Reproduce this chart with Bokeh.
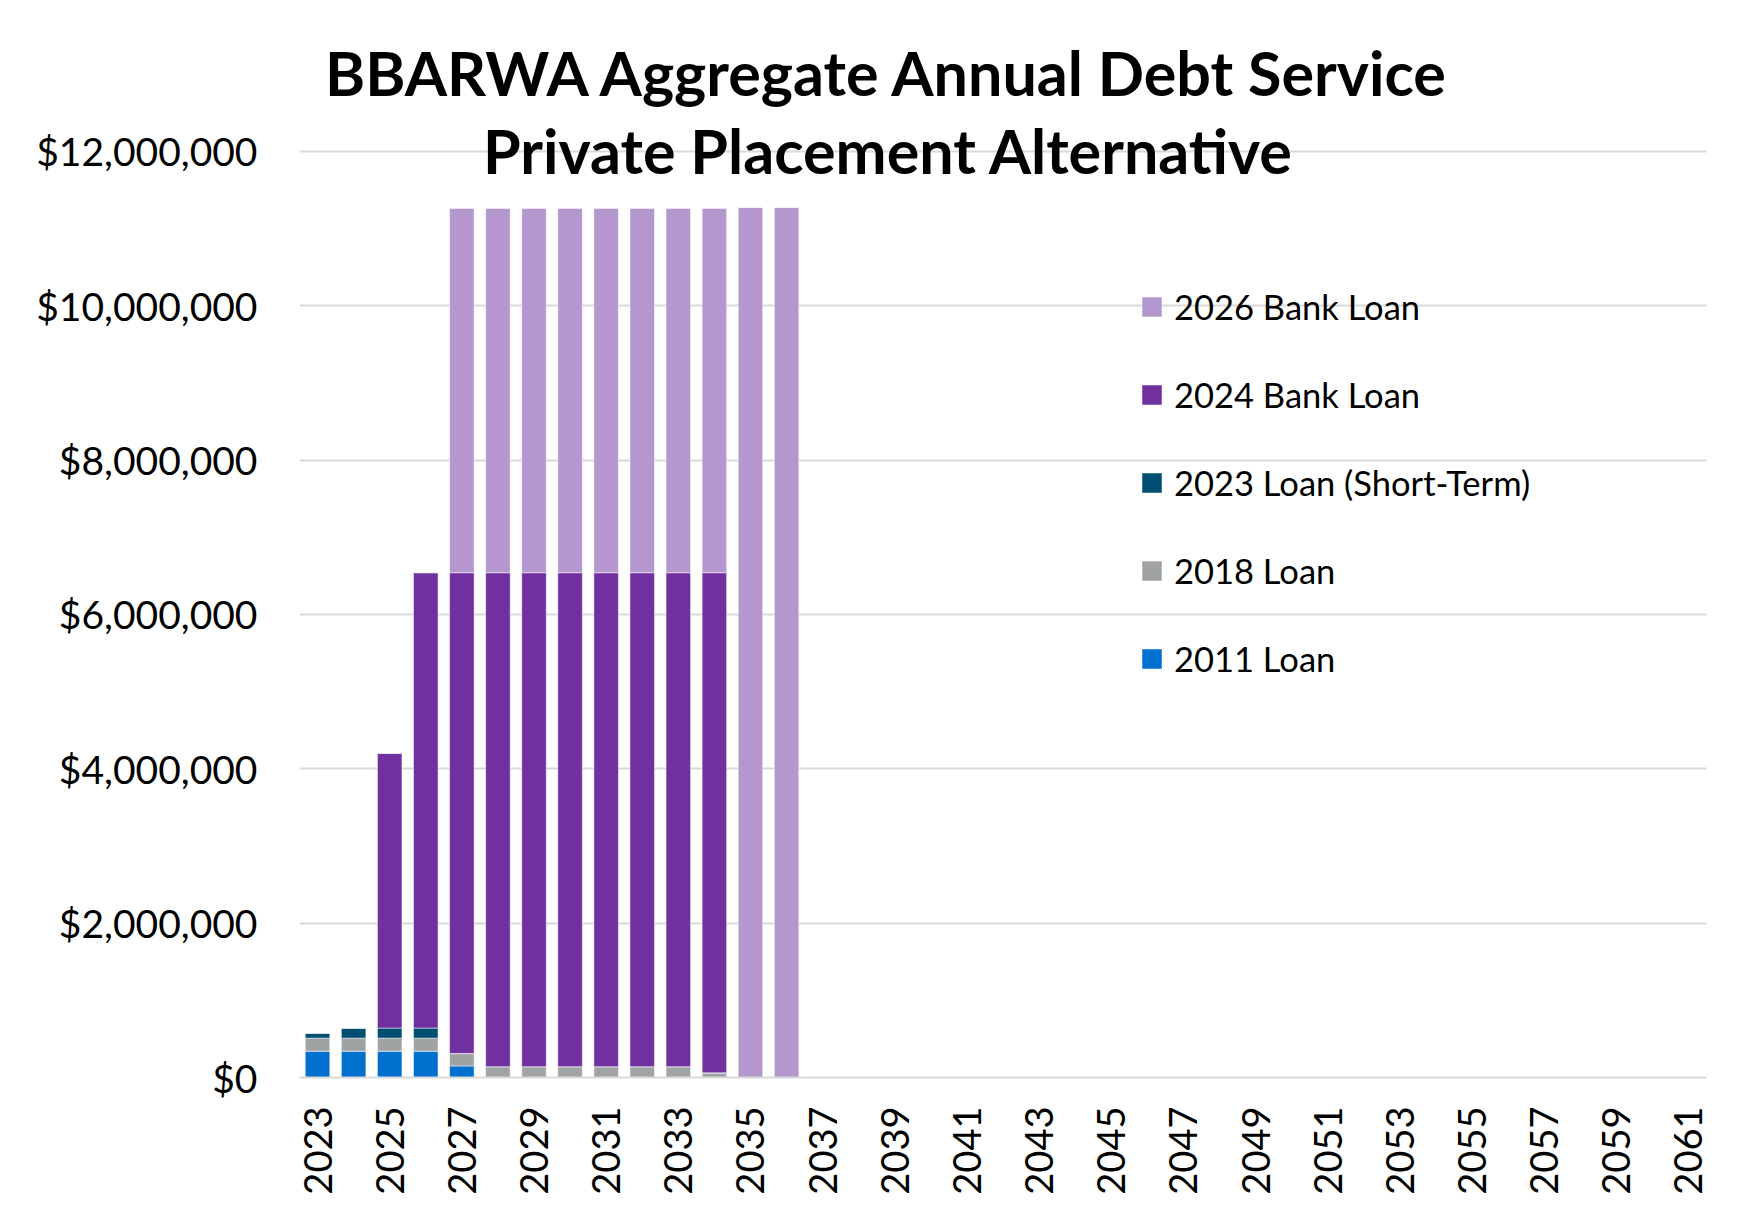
import math
from bokeh.plotting import figure
from bokeh.models import (ColumnDataSource, FixedTicker, NumeralTickFormatter,
                          Legend, LegendItem, Label, Range1d)
from bokeh.embed import file_html
from bokeh.resources import INLINE

years = list(range(2023, 2062))

def series(d):
    return [d.get(y, 0) for y in years]

loan_2011 = series({2023: 340000, 2024: 340000, 2025: 340000, 2026: 340000, 2027: 150000})
loan_2018 = series({2023: 170000, 2024: 170000, 2025: 170000, 2026: 170000, 2027: 160000,
                    2028: 140000, 2029: 140000, 2030: 140000, 2031: 140000, 2032: 140000,
                    2033: 140000, 2034: 60000})
loan_2023_st = series({2023: 65000, 2024: 130000, 2025: 130000, 2026: 130000})
bank_2024 = series({2025: 3560000, 2026: 5900000, 2027: 6230000, 2028: 6400000, 2029: 6400000,
                    2030: 6400000, 2031: 6400000, 2032: 6400000, 2033: 6400000, 2034: 6480000})
bank_2026 = series({2027: 4720000, 2028: 4720000, 2029: 4720000, 2030: 4720000, 2031: 4720000,
                    2032: 4720000, 2033: 4720000, 2034: 4720000, 2035: 11270000, 2036: 11270000})

series_keys = ["loan_2011", "loan_2018", "loan_2023_st", "bank_2024", "bank_2026"]
series_names = ["2011 Loan", "2018 Loan", "2023 Loan (Short-Term)", "2024 Bank Loan", "2026 Bank Loan"]
series_colors = ["#0070CF", "#A0A3A4", "#004F72", "#7030A0", "#B597CF"]

tick_years = list(range(2023, 2062, 2))
y_ticks = [0, 2000000, 4000000, 6000000, 8000000, 10000000, 12000000]
title_lines = ["BBARWA Aggregate Annual Debt Service", "Private Placement Alternative"]

source = ColumnDataSource(dict(year=years, loan_2011=loan_2011, loan_2018=loan_2018,
                               loan_2023_st=loan_2023_st, bank_2024=bank_2024,
                               bank_2026=bank_2026))

W, H = 1741, 1208
p = figure(width=W, height=H, output_backend="svg", toolbar_location=None,
           x_range=Range1d(2022.5, 2061.5), y_range=Range1d(0, 13850000),
           min_border_left=299, min_border_right=35, min_border_top=8, min_border_bottom=131)
p.outline_line_color = None
p.background_fill_color = "white"
p.border_fill_color = "white"

renderers = p.vbar_stack(series_keys, x="year", width=0.68, color=series_colors,
                         line_color="white", line_alpha=0.5, line_width=1, source=source)

p.xgrid.grid_line_color = None
p.ygrid.ticker = FixedTicker(ticks=y_ticks)
p.ygrid.grid_line_color = "#D9D9D9"
p.ygrid.grid_line_width = 2

p.yaxis.ticker = FixedTicker(ticks=y_ticks)
p.yaxis.formatter = NumeralTickFormatter(format="$0,0")
p.yaxis.axis_line_color = None
p.yaxis.major_tick_line_color = None
p.yaxis.minor_tick_line_color = None
p.yaxis.major_label_standoff = 36
p.yaxis.major_label_text_font = "Lato"
p.yaxis.major_label_text_font_size = "39px"
p.yaxis.major_label_text_color = "#000000"

p.xaxis.ticker = FixedTicker(ticks=tick_years)
p.xaxis.axis_line_color = "#D9D9D9"
p.xaxis.axis_line_width = 2
p.xaxis.major_tick_line_color = None
p.xaxis.minor_tick_line_color = None
p.xaxis.major_label_orientation = math.pi / 2
p.xaxis.major_label_standoff = 23
p.xaxis.major_label_text_font = "Lato"
p.xaxis.major_label_text_font_size = "38px"
p.xaxis.major_label_text_color = "#000000"

items = [LegendItem(label=series_names[i], renderers=[renderers[i]]) for i in reversed(range(5))]
legend = Legend(items=items, location=(840, 398), orientation="vertical",
                glyph_width=25, glyph_height=25, label_standoff=10, spacing=47,
                padding=0, margin=0, border_line_color=None, background_fill_alpha=0,
                label_text_font="Lato", label_text_font_size="34.5px",
                label_text_color="#000000")
p.add_layout(legend, "center")

for txt, yy in zip(title_lines, [1005, 927]):
    p.add_layout(Label(x=589, y=yy, x_units="screen", y_units="screen", text=txt,
                       text_align="center", text_baseline="middle",
                       text_font="Lato", text_font_style="bold", text_font_size="61px",
                       text_color="#000000"))

open("out.html", "w").write(file_html(p, INLINE))
